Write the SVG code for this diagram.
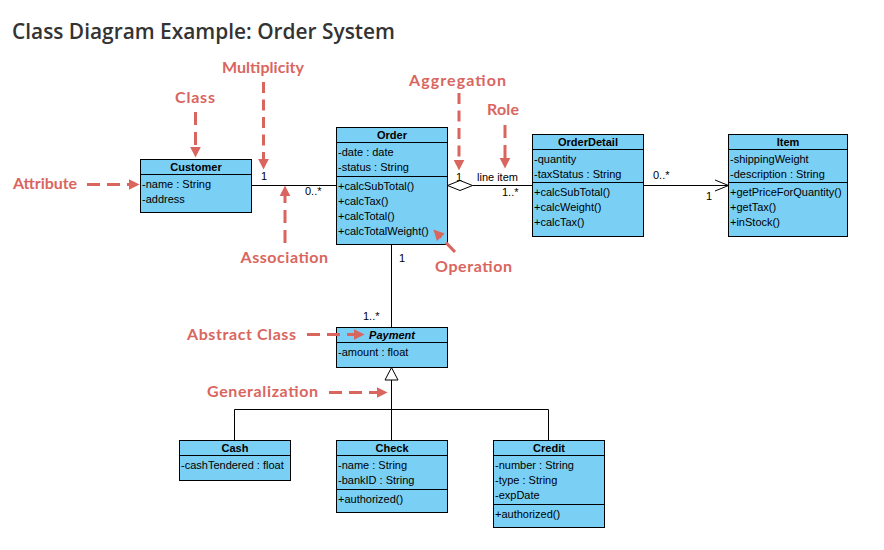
<svg xmlns="http://www.w3.org/2000/svg" width="884" height="550" viewBox="0 0 884 550">
<defs>
<style>
.box{fill:#7acff5;stroke:#000;stroke-width:1}
.sep{stroke:#000;stroke-width:1}
.hd{font-family:"Liberation Sans",Arial,sans-serif;font-size:11px;font-weight:bold;text-anchor:middle;fill:#000}
.tx{font-family:"Liberation Sans",Arial,sans-serif;font-size:11px;fill:#000}
.ln{stroke:#000;stroke-width:1;fill:none}
.ann{font-family:Lato,"Open Sans",sans-serif;font-size:16px;font-weight:bold;fill:#d9665e}
.da{stroke:#d9665e;stroke-width:3;fill:none;stroke-dasharray:13 7}
</style>
<marker id="ah" markerUnits="userSpaceOnUse" markerWidth="12" markerHeight="12" viewBox="0 0 10 10" refX="1" refY="5" orient="auto">
<path d="M0,0.5 L9,5 L0,9.5 z" fill="#d9665e"/>
</marker>
</defs>
<rect width="884" height="550" fill="#fff"/>
<text x="12" y="38.5" font-family="'Open Sans',sans-serif" font-size="21.5" font-weight="600" fill="#333" textLength="383" lengthAdjust="spacingAndGlyphs">Class Diagram Example: Order System</text>

<g id="connectors">
<line class="ln" x1="251.5" y1="185.5" x2="336.5" y2="185.5"/>
<line class="ln" x1="472.5" y1="185.5" x2="532.5" y2="185.5"/>
<polygon points="447.5,185.5 460,180.5 472.5,185.5 460,190.5" fill="#fff" stroke="#000" stroke-width="1"/>
<line class="ln" x1="643.5" y1="185.5" x2="728.5" y2="185.5"/>
<polyline class="ln" points="715,180 728.5,185.5 715,191"/>
<line class="ln" x1="391.5" y1="244.5" x2="391.5" y2="327.5"/>
<line class="ln" x1="391.5" y1="380" x2="391.5" y2="440.5"/>
<polyline class="ln" points="234.5,440.5 234.5,409.5 548.5,409.5 548.5,440.5"/>
<polygon points="391.5,367.5 385,380 398,380" fill="#fff" stroke="#000" stroke-width="1"/>
<text class="tx" x="261" y="180">1</text>
<text class="tx" x="305" y="195">0..*</text>
<text class="tx" x="456" y="181">1</text>
<text class="tx" x="477" y="181">line item</text>
<text class="tx" x="502" y="196">1..*</text>
<text class="tx" x="653" y="179">0..*</text>
<text class="tx" x="706" y="200">1</text>
<text class="tx" x="399" y="262">1</text>
<text class="tx" x="363" y="320">1..*</text>
</g>

<g id="customer">
<rect class="box" x="140.5" y="159.5" width="111" height="53"/>
<line class="sep" x1="140.5" y1="174.5" x2="251.5" y2="174.5"/>
<text class="hd" x="196" y="171">Customer</text>
<text class="tx" x="142" y="188">-name : String</text>
<text class="tx" x="142" y="203">-address</text>
</g>

<g id="order">
<rect class="box" x="336.5" y="127.5" width="111" height="117"/>
<line class="sep" x1="336.5" y1="142.5" x2="447.5" y2="142.5"/>
<line class="sep" x1="336.5" y1="176.5" x2="447.5" y2="176.5"/>
<text class="hd" x="392" y="139">Order</text>
<text class="tx" x="338" y="156">-date : date</text>
<text class="tx" x="338" y="171">-status : String</text>
<text class="tx" x="338" y="190">+calcSubTotal()</text>
<text class="tx" x="338" y="205">+calcTax()</text>
<text class="tx" x="338" y="220">+calcTotal()</text>
<text class="tx" x="338" y="235">+calcTotalWeight()</text>
</g>

<g id="orderdetail">
<rect class="box" x="532.5" y="134.5" width="111" height="102"/>
<line class="sep" x1="532.5" y1="149.5" x2="643.5" y2="149.5"/>
<line class="sep" x1="532.5" y1="182.5" x2="643.5" y2="182.5"/>
<text class="hd" x="588" y="146">OrderDetail</text>
<text class="tx" x="534" y="163">-quantity</text>
<text class="tx" x="534" y="178">-taxStatus : String</text>
<text class="tx" x="534" y="196">+calcSubTotal()</text>
<text class="tx" x="534" y="211">+calcWeight()</text>
<text class="tx" x="534" y="226">+calcTax()</text>
</g>

<g id="item">
<rect class="box" x="728.5" y="134.5" width="119" height="102"/>
<line class="sep" x1="728.5" y1="149.5" x2="847.5" y2="149.5"/>
<line class="sep" x1="728.5" y1="182.5" x2="847.5" y2="182.5"/>
<text class="hd" x="788" y="146">Item</text>
<text class="tx" x="730" y="163">-shippingWeight</text>
<text class="tx" x="730" y="178">-description : String</text>
<text class="tx" x="730" y="196">+getPriceForQuantity()</text>
<text class="tx" x="730" y="211">+getTax()</text>
<text class="tx" x="730" y="226">+inStock()</text>
</g>

<g id="payment">
<rect class="box" x="336.5" y="327.5" width="111" height="40"/>
<line class="sep" x1="336.5" y1="342.5" x2="447.5" y2="342.5"/>
<text class="hd" x="392" y="339" font-style="italic">Payment</text>
<text class="tx" x="338" y="356">-amount : float</text>
</g>

<g id="cash">
<rect class="box" x="179.5" y="440.5" width="111" height="40"/>
<line class="sep" x1="179.5" y1="455.5" x2="290.5" y2="455.5"/>
<text class="hd" x="235" y="452">Cash</text>
<text class="tx" x="181" y="469">-cashTendered : float</text>
</g>

<g id="check">
<rect class="box" x="336.5" y="440.5" width="111" height="72"/>
<line class="sep" x1="336.5" y1="455.5" x2="447.5" y2="455.5"/>
<line class="sep" x1="336.5" y1="489.5" x2="447.5" y2="489.5"/>
<text class="hd" x="392" y="452">Check</text>
<text class="tx" x="338" y="469">-name : String</text>
<text class="tx" x="338" y="484">-bankID : String</text>
<text class="tx" x="338" y="503">+authorized()</text>
</g>

<g id="credit">
<rect class="box" x="493.5" y="440.5" width="111" height="87"/>
<line class="sep" x1="493.5" y1="455.5" x2="604.5" y2="455.5"/>
<line class="sep" x1="493.5" y1="504.5" x2="604.5" y2="504.5"/>
<text class="hd" x="549" y="452">Credit</text>
<text class="tx" x="495" y="469">-number : String</text>
<text class="tx" x="495" y="484">-type : String</text>
<text class="tx" x="495" y="499">-expDate</text>
<text class="tx" x="495" y="518">+authorized()</text>
</g>

<g id="annotations">
<text class="ann" x="222" y="73" textLength="82" lengthAdjust="spacing">Multiplicity</text>
<line class="da" x1="263.5" y1="82" x2="263.5" y2="160" style="stroke-dasharray:11 6.5" marker-end="url(#ah)"/>
<text class="ann" x="175" y="103" textLength="40" lengthAdjust="spacing">Class</text>
<line class="da" x1="195.5" y1="112" x2="195.5" y2="148" marker-end="url(#ah)"/>
<text class="ann" x="13" y="189" textLength="64" lengthAdjust="spacing">Attribute</text>
<line class="da" x1="87" y1="184.5" x2="130" y2="184.5" marker-end="url(#ah)"/>
<text class="ann" x="240.5" y="263" textLength="87.5" lengthAdjust="spacing">Association</text>
<line class="da" x1="285" y1="243" x2="285" y2="195" marker-end="url(#ah)"/>
<text class="ann" x="409" y="86" textLength="97" lengthAdjust="spacing">Aggregation</text>
<line class="da" x1="459" y1="93" x2="459" y2="161" style="stroke-dasharray:11 6.5" marker-end="url(#ah)"/>
<text class="ann" x="487" y="115" textLength="32" lengthAdjust="spacing">Role</text>
<line class="da" x1="505" y1="125" x2="505" y2="159" marker-end="url(#ah)"/>
<text class="ann" x="435" y="272" textLength="77" lengthAdjust="spacing">Operation</text>
<line class="da" x1="455" y1="252" x2="440" y2="236.5" marker-end="url(#ah)"/>
<text class="ann" x="187" y="340" textLength="109" lengthAdjust="spacing">Abstract Class</text>
<line class="da" x1="307" y1="334.5" x2="355" y2="334.5" marker-end="url(#ah)"/>
<text class="ann" x="207" y="397" textLength="111" lengthAdjust="spacing">Generalization</text>
<line class="da" x1="329" y1="392.5" x2="378" y2="392.5" marker-end="url(#ah)"/>
</g>
</svg>
